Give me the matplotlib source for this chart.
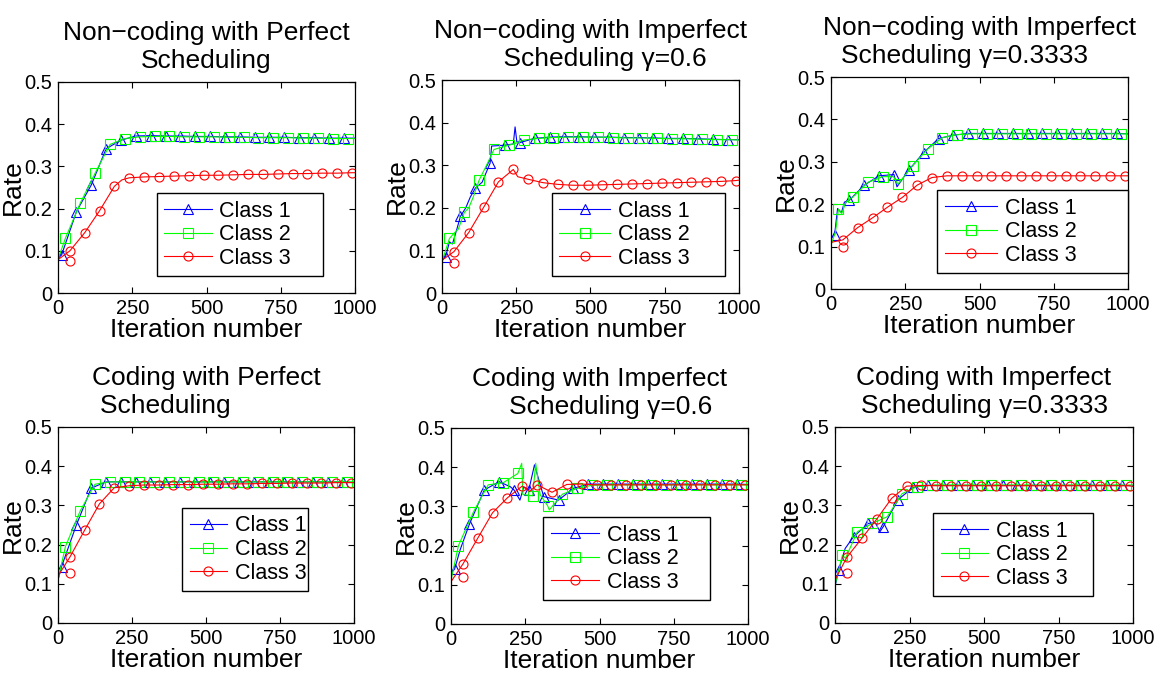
import matplotlib
matplotlib.use('Agg')
import matplotlib.pyplot as plt

plt.rcParams['font.family'] = ['Liberation Sans', 'DejaVu Sans']

# iteration grids where the markers sit (class 1, 2, 3)
mark1 = set(range(12, 1000, 50))
mark2 = set(range(25, 1000, 50))
mark3 = set(range(40, 1000, 50))

base1 = [0, 12, 62, 112, 162, 212, 262, 312, 362, 412, 462, 512, 562, 612, 662, 712, 762, 812, 862, 912, 962, 1000]
base2 = [0, 25, 75, 125, 175, 225, 275, 325, 375, 425, 475, 525, 575, 625, 675, 725, 775, 825, 875, 925, 975, 1000]
base3 = [0, 40, 90, 140, 190, 240, 290, 340, 390, 440, 490, 540, 590, 640, 690, 740, 790, 840, 890, 940, 990, 1000]

titles = ["Non\u2212coding with Perfect\nScheduling",
          "Non\u2212coding with Imperfect\n    Scheduling \u03b3=0.6",
          "Non\u2212coding with Imperfect\nScheduling \u03b3=0.3333    ",
          "Coding with Perfect\nScheduling           ",
          "Coding with Imperfect\n   Scheduling \u03b3=0.6",
          "Coding with Imperfect\nScheduling \u03b3=0.3333"]
labels = ["Class 1", "Class 2", "Class 3"]
xticks = [0, 250, 500, 750, 1000]
yticks = [0, 0.1, 0.2, 0.3, 0.4, 0.5]
ytick_labels = ["0", "0.1", "0.2", "0.3", "0.4", "0.5"]

# panel 1: non-coding, perfect scheduling
p1_x1 = base1
p1_y1 = [0.083, 0.090, 0.193, 0.256, 0.342, 0.362, 0.372, 0.373, 0.372, 0.372, 0.371, 0.371, 0.370, 0.370,
         0.369, 0.369, 0.369, 0.368, 0.368, 0.367, 0.367, 0.367]
p1_x2 = base2
p1_y2 = [0.080, 0.130, 0.213, 0.284, 0.352, 0.366, 0.370, 0.371, 0.371, 0.370, 0.370, 0.370, 0.369, 0.369,
         0.368, 0.368, 0.368, 0.367, 0.367, 0.366, 0.366, 0.366]
p1_x3 = [0, 40, 90, 140, 190, 215, 240, 290, 340, 390, 440, 490, 540, 590, 640, 690, 740, 790, 840, 890, 940, 990, 1000]
p1_y3 = [0.079, 0.100, 0.143, 0.195, 0.253, 0.268, 0.273, 0.275, 0.276, 0.277, 0.278, 0.279, 0.279, 0.280,
         0.281, 0.281, 0.282, 0.283, 0.283, 0.284, 0.284, 0.285, 0.285]
p1_ex = [40, 0.075]

# panel 2: non-coding, imperfect scheduling gamma=0.6
p2_x1 = [0, 12, 25, 35, 50, 62, 80, 95, 112, 135, 162, 167, 212, 240, 246, 252, 262,
         312, 362, 412, 462, 512, 562, 612, 662, 712, 762, 812, 862, 912, 962, 1000]
p2_y1 = [0.078, 0.085, 0.12, 0.115, 0.15, 0.18, 0.2, 0.225, 0.246, 0.26, 0.305, 0.345, 0.347, 0.35, 0.39, 0.355, 0.353,
         0.363, 0.366, 0.367, 0.367, 0.366, 0.366, 0.365, 0.365, 0.364, 0.363, 0.363, 0.362, 0.361, 0.360, 0.360]
p2_x2 = [0, 25, 40, 55, 75, 90, 105, 125, 150, 175, 225, 250, 275,
         325, 375, 425, 475, 525, 575, 625, 675, 725, 775, 825, 875, 925, 975, 1000]
p2_y2 = [0.074, 0.128, 0.14, 0.15, 0.189, 0.2, 0.225, 0.265, 0.3, 0.337, 0.347, 0.352, 0.359,
         0.363, 0.365, 0.366, 0.366, 0.366, 0.365, 0.364, 0.364, 0.363, 0.362, 0.362, 0.361, 0.360, 0.360, 0.359]
p2_x3 = [0, 40, 90, 140, 190, 240, 255, 290,
         340, 390, 440, 490, 540, 590, 640, 690, 740, 790, 840, 890, 940, 990, 1000]
p2_y3 = [0.077, 0.097, 0.142, 0.201, 0.261, 0.290, 0.273, 0.267,
         0.259, 0.255, 0.253, 0.253, 0.254, 0.255, 0.256, 0.257, 0.258, 0.259, 0.260, 0.261, 0.262, 0.264, 0.265]
p2_ex = [40, 0.071]

# panel 3: non-coding, imperfect scheduling gamma=0.3333
p3_x1 = [0, 12, 22, 35, 45, 62, 112, 162, 212, 222, 262,
         312, 362, 412, 462, 512, 562, 612, 662, 712, 762, 812, 862, 912, 962, 1000]
p3_y1 = [0.12, 0.128, 0.19, 0.18, 0.205, 0.21, 0.245, 0.267, 0.27, 0.241, 0.281,
         0.322, 0.355, 0.363, 0.367, 0.367, 0.367, 0.367, 0.367, 0.367, 0.367, 0.367, 0.367, 0.367, 0.367, 0.366]
p3_x2 = [0, 15, 25, 36, 50, 75, 125, 175, 210, 225, 275,
         325, 375, 425, 475, 525, 575, 625, 675, 725, 775, 825, 875, 925, 975, 1000]
p3_y2 = [0.104, 0.135, 0.188, 0.178, 0.205, 0.218, 0.252, 0.265, 0.265, 0.247, 0.291,
         0.33, 0.357, 0.364, 0.366, 0.366, 0.366, 0.366, 0.366, 0.366, 0.366, 0.366, 0.366, 0.366, 0.366, 0.366]
p3_x3 = base3
p3_y3 = [0.11, 0.116, 0.145, 0.168, 0.193, 0.216, 0.245, 0.263,
         0.267, 0.267, 0.267, 0.267, 0.267, 0.267, 0.267, 0.267, 0.267, 0.267, 0.267, 0.267, 0.267, 0.267]
p3_ex = [40, 0.099]

# panel 4: coding, perfect scheduling
p4_x1 = base1
p4_y1 = [0.11, 0.144, 0.25, 0.344, 0.36, 0.36, 0.36, 0.36, 0.36, 0.36, 0.36, 0.36, 0.36, 0.36,
         0.36, 0.36, 0.36, 0.36, 0.36, 0.36, 0.36, 0.358]
p4_x2 = base2
p4_y2 = [0.11, 0.195, 0.286, 0.354, 0.36, 0.36, 0.36, 0.36, 0.36, 0.36, 0.36, 0.36, 0.36, 0.36,
         0.36, 0.36, 0.36, 0.36, 0.36, 0.36, 0.36, 0.36]
p4_x3 = base3
p4_y3 = [0.12, 0.168, 0.237, 0.304, 0.345, 0.35, 0.352, 0.352, 0.353, 0.353, 0.354, 0.354, 0.355, 0.355,
         0.356, 0.356, 0.357, 0.357, 0.357, 0.358, 0.358, 0.358]
p4_ex = [40, 0.128]

# panel 5: coding, imperfect scheduling gamma=0.6
p5_x1 = [0, 12, 31, 62, 112, 162, 200, 212, 232, 245, 262, 281, 312, 362, 412, 462,
         512, 562, 612, 662, 712, 762, 812, 862, 912, 962, 1000]
p5_y1 = [0.13, 0.14, 0.19, 0.255, 0.342, 0.363, 0.35, 0.342, 0.316, 0.35, 0.342, 0.406, 0.325, 0.316, 0.346, 0.357,
         0.357, 0.357, 0.357, 0.357, 0.357, 0.357, 0.357, 0.357, 0.357, 0.357, 0.356]
p5_x2 = [0, 15, 25, 75, 125, 175, 225, 238, 242, 275, 285, 300, 325, 331, 375, 425,
         475, 525, 575, 625, 675, 725, 775, 825, 875, 925, 975, 1000]
p5_y2 = [0.112, 0.165, 0.2, 0.285, 0.355, 0.36, 0.384, 0.41, 0.33, 0.327, 0.41, 0.33, 0.302, 0.291, 0.331, 0.346,
         0.354, 0.355, 0.355, 0.355, 0.355, 0.355, 0.355, 0.355, 0.355, 0.355, 0.355, 0.355]
p5_x3 = [0, 40, 90, 140, 190, 240, 264, 290, 340, 390,
         440, 490, 540, 590, 640, 690, 740, 790, 840, 890, 940, 990, 1000]
p5_y3 = [0.108, 0.153, 0.219, 0.284, 0.322, 0.352, 0.338, 0.355, 0.336, 0.356,
         0.357, 0.355, 0.355, 0.355, 0.355, 0.355, 0.355, 0.355, 0.355, 0.355, 0.355, 0.355, 0.355]
p5_ex = [40, 0.119]

# panel 6: coding, imperfect scheduling gamma=0.3333
p6_x1 = [0, 12, 34, 62, 112, 135, 151, 162, 212, 262,
         312, 362, 412, 462, 512, 562, 612, 662, 712, 762, 812, 862, 912, 962, 1000]
p6_y1 = [0.093, 0.135, 0.19, 0.22, 0.254, 0.256, 0.233, 0.246, 0.315, 0.346,
         0.351, 0.351, 0.351, 0.351, 0.351, 0.351, 0.351, 0.351, 0.351, 0.351, 0.351, 0.351, 0.351, 0.351, 0.35]
p6_x2 = [0, 25, 35, 75, 125, 175, 225, 275,
         325, 375, 425, 475, 525, 575, 625, 675, 725, 775, 825, 875, 925, 975, 1000]
p6_y2 = [0.097, 0.173, 0.165, 0.233, 0.254, 0.271, 0.33, 0.348,
         0.352, 0.352, 0.352, 0.352, 0.352, 0.352, 0.352, 0.352, 0.352, 0.352, 0.352, 0.352, 0.352, 0.352, 0.352]
p6_x3 = base3
p6_y3 = [0.11, 0.168, 0.216, 0.265, 0.318, 0.349, 0.351,
         0.35, 0.35, 0.35, 0.35, 0.35, 0.35, 0.35, 0.35, 0.35, 0.35, 0.35, 0.35, 0.35, 0.35, 0.348]
p6_ex = [40, 0.128]

panels = [
    (p1_x1, p1_y1, p1_x2, p1_y2, p1_x3, p1_y3, p1_ex),
    (p2_x1, p2_y1, p2_x2, p2_y2, p2_x3, p2_y3, p2_ex),
    (p3_x1, p3_y1, p3_x2, p3_y2, p3_x3, p3_y3, p3_ex),
    (p4_x1, p4_y1, p4_x2, p4_y2, p4_x3, p4_y3, p4_ex),
    (p5_x1, p5_y1, p5_x2, p5_y2, p5_x3, p5_y3, p5_ex),
    (p6_x1, p6_y1, p6_x2, p6_y2, p6_x3, p6_y3, p6_ex),
]

# axes rectangles in figure fractions, legend boxes in axes fractions
ax_pos = [[0.0496, 0.5672, 0.2538, 0.3117],
          [0.3778, 0.5672, 0.2538, 0.3146],
          [0.7103, 0.5731, 0.2538, 0.3131],
          [0.0496, 0.0798, 0.2530, 0.2895],
          [0.3855, 0.0783, 0.2538, 0.2895],
          [0.7137, 0.0798, 0.2547, 0.2895]]
leg_box = [(0.333, 0.062, 0.559, 0.412),
           (0.370, 0.028, 0.583, 0.441),
           (0.357, 0.033, 0.643, 0.434),
           (0.419, 0.148, 0.426, 0.439),
           (0.310, 0.082, 0.562, 0.464),
           (0.329, 0.122, 0.537, 0.439)]
handle_len = [2.2, 2.35, 2.45, 1.75, 2.25, 2.2]

colors = ['#0000ff', '#00ff00', '#ff0000']
markers = ['^', 's', 'o']
marks = [mark1, mark2, mark3]

fig = plt.figure(figsize=(11.7, 6.77), dpi=100)

for k, data in enumerate(panels):
    ax = fig.add_axes(ax_pos[k])
    for c in range(3):
        xs, ys = data[2 * c], data[2 * c + 1]
        every = [i for i, v in enumerate(xs) if v in marks[c]]
        ax.plot(xs, ys, color=colors[c], lw=0.8, marker=markers[c], markevery=every,
                markersize=6.5, markerfacecolor='none', markeredgewidth=0.8, label=labels[c])
    ex = data[6]
    ax.plot([ex[0]], [ex[1]], linestyle='none', marker='o', markersize=6.5,
            markerfacecolor='none', markeredgecolor=colors[2], markeredgewidth=0.8)

    ax.set_xlim(0, 1000)
    ax.set_ylim(0, 0.5)
    ax.set_xticks(xticks)
    ax.set_yticks(yticks)
    ax.set_yticklabels(ytick_labels)
    ax.tick_params(direction='in', top=True, right=True, length=4, width=0.8,
                   labelsize=14.5, pad=4)
    for s in ax.spines.values():
        s.set_linewidth(0.9)
    ax.set_xlabel("Iteration number", fontsize=19, labelpad=0)
    ax.set_ylabel("Rate", fontsize=19, labelpad=0)
    ax.set_title(titles[k], fontsize=19, pad=10, linespacing=1.2)

    leg = ax.legend(loc='upper left', bbox_to_anchor=leg_box[k], mode='expand',
                    borderaxespad=0, fontsize=15.5, handlelength=handle_len[k],
                    handletextpad=0.35, labelspacing=0.12, borderpad=0.35,
                    fancybox=False, framealpha=1, edgecolor='black', numpoints=1)
    leg.get_frame().set_linewidth(1.0)

fig.savefig('out.png', dpi=100)
